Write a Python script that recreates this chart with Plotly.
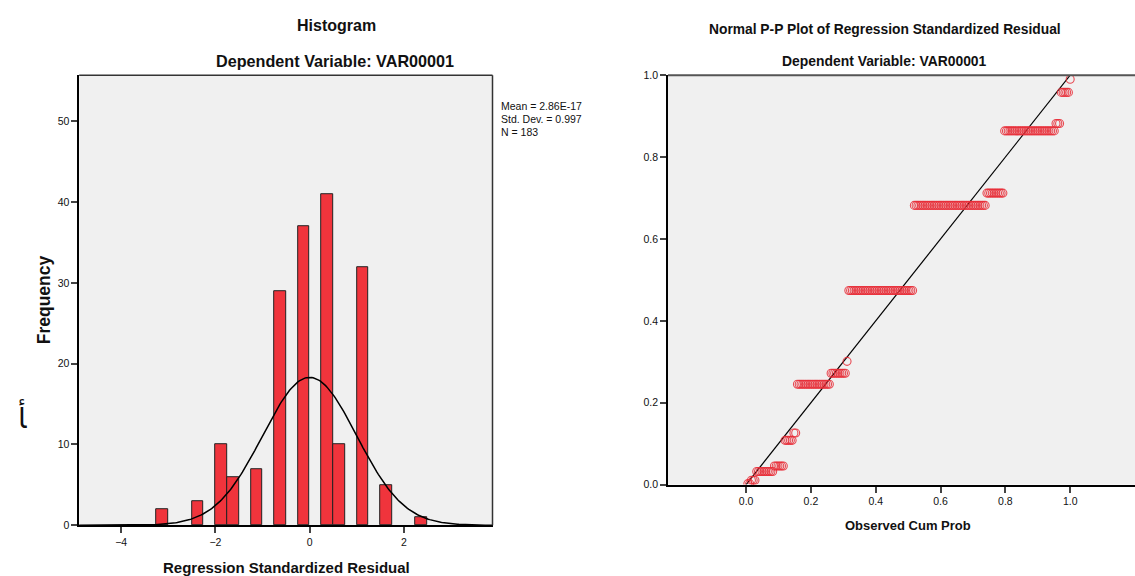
import numpy as np
import plotly.graph_objects as go

# ---------------- data ----------------
# Histogram of regression standardized residuals (bin width 0.25)
bin_centers = [-3.125, -2.375, -1.875, -1.625, -1.125, -0.625, -0.125, 0.375, 0.625, 1.125, 1.625, 2.375]
bin_counts = [2, 3, 10, 6, 7, 29, 37, 41, 10, 32, 5, 1]
bin_width = 0.25
hist_x_ticks = [-4, -2, 0, 2]
hist_y_ticks = [0, 10, 20, 30, 40, 50]

stat_mean = 2.86e-17
stat_sd = 0.997
stat_n = 183

# Normal P-P plot: expected cum prob of each tied group, and group sizes
pp_expected = [0.0024, 0.0105, 0.032, 0.0455, 0.108, 0.126, 0.245, 0.272, 0.301,
               0.474, 0.682, 0.712, 0.864, 0.882, 0.958, 0.990]
pp_counts = [2, 3, 10, 6, 5, 2, 19, 9, 1, 37, 41, 10, 29, 3, 5, 1]
pp_ticks = [0.0, 0.2, 0.4, 0.6, 0.8, 1.0]

# ---------------- derived ----------------
# observed cumulative probability = rank / N
obs_x, exp_y = [], []
rank = 0
for yv, c in zip(pp_expected, pp_counts):
    for _ in range(c):
        rank += 1
        obs_x.append(rank / stat_n)
        exp_y.append(yv)

curve_x = np.linspace(-4.9, 3.9, 300)
curve_y = stat_n * bin_width / (stat_sd * np.sqrt(2 * np.pi)) * np.exp(-0.5 * ((curve_x - stat_mean) / stat_sd) ** 2)

W, H = 1135, 576
def fx(px):
    return px / W
def fy(py):
    # target pixel row -> paper fraction (with small vertical calibration)
    return 1 - ((py - 5.8) / 0.979) / H

FONT = "Liberation Sans, Arial, sans-serif"
RED = "rgb(240,52,60)"

fig = go.Figure()

fig.add_trace(go.Bar(
    x=bin_centers, y=bin_counts, width=bin_width,
    marker=dict(color=RED, line=dict(color="#222222", width=1)),
    xaxis="x", yaxis="y", showlegend=False, hoverinfo="x+y"))

fig.add_trace(go.Scatter(
    x=curve_x, y=curve_y, mode="lines", line=dict(color="black", width=1.5),
    xaxis="x", yaxis="y", showlegend=False, hoverinfo="skip"))

fig.add_trace(go.Scatter(
    x=[0, 1], y=[0, 1], mode="lines", line=dict(color="black", width=1.2),
    xaxis="x2", yaxis="y2", showlegend=False, hoverinfo="skip"))

fig.add_trace(go.Scatter(
    x=obs_x, y=exp_y, mode="markers",
    marker=dict(symbol="circle-open", size=8, color="rgba(232,45,55,0.85)", line=dict(width=1.1)),
    xaxis="x2", yaxis="y2", showlegend=False))

tickfont = dict(family=FONT, size=10.5, color="#111111")

fig.update_layout(
    width=W, height=H,
    margin=dict(l=0, r=0, t=0, b=0),
    paper_bgcolor="white",
    plot_bgcolor="#f0f0f0",
    bargap=0,
    xaxis=dict(domain=[fx(79.2), fx(492.5)], range=[-4.89, 3.88], anchor="y",
               tickvals=hist_x_ticks, ticks="outside", ticklen=6, tickwidth=1.5, tickcolor="#444",
               showline=True, linecolor="black", linewidth=2, showgrid=False, zeroline=False,
               tickfont=tickfont),
    yaxis=dict(domain=[fy(525), fy(75)], range=[0, 55.7], anchor="x",
               tickvals=hist_y_ticks, ticks="outside", ticklen=6, tickwidth=1.5, tickcolor="#444",
               showline=True, linecolor="black", linewidth=1.5, showgrid=False, zeroline=False,
               tickfont=tickfont),
    xaxis2=dict(domain=[fx(668), 1.0], range=[-0.241, 1.2], anchor="y2",
                tickvals=pp_ticks, tickformat=".1f", ticks="outside", ticklen=6, tickwidth=1.5, tickcolor="#444",
                showline=True, linecolor="black", linewidth=2, showgrid=False, zeroline=False,
                tickfont=tickfont),
    yaxis2=dict(domain=[fy(484.3), fy(75)], range=[0, 1.0], anchor="x2",
                tickvals=pp_ticks, tickformat=".1f", ticks="outside", ticklen=6, tickwidth=1.5, tickcolor="#444",
                showline=True, linecolor="black", linewidth=1.5, showgrid=False, zeroline=False,
                tickfont=tickfont),
)

# frame lines (top/right of histogram, top of P-P)
fig.add_shape(type="line", xref="paper", yref="paper", x0=fx(79.2), x1=fx(492.5), y0=fy(75), y1=fy(75),
              line=dict(color="#333", width=1.5))
fig.add_shape(type="line", xref="paper", yref="paper", x0=fx(492.5), x1=fx(492.5), y0=fy(75), y1=fy(525),
              line=dict(color="#333", width=1.5))
fig.add_shape(type="line", xref="paper", yref="paper", x0=fx(668), x1=1.0, y0=fy(75), y1=fy(75),
              line=dict(color="#555", width=2))

def ann(text, x, y, size, family=FONT, xanchor="center", yanchor="middle", angle=0, color="#111111"):
    fig.add_annotation(text=text, x=fx(x), y=fy(y), xref="paper", yref="paper",
                       xanchor=xanchor, yanchor=yanchor, showarrow=False, textangle=angle,
                       font=dict(family=family, size=size, color=color))

ann("<b>Histogram</b>", 336, 25, 16)
ann("<b>Dependent Variable: VAR00001</b>", 335, 61, 16.2)
ann("<b>Frequency</b>", 44, 300, 17.5, angle=-90)
ann("\ufe84", 22, 416, 28, family="DejaVu Sans")
ann("<b>Regression Standardized Residual</b>", 286, 557, 15, yanchor="top")
ann("Mean = 2.86E-17", 499, 106, 10.5, xanchor="left")
ann("Std. Dev. = 0.997", 499, 119, 10.5, xanchor="left")
ann("N = 183", 499, 132, 10.5, xanchor="left")

ann("<b>Normal P-P Plot of Regression Standardized Residual</b>", 884.5, 29, 13.8)
ann("<b>Dependent Variable: VAR00001</b>", 884.6, 61, 13.9)
ann("<b>Observed Cum Prob</b>", 908, 525, 13)

page_fix = (
    "var s=document.createElement('style');"
    "s.innerHTML='html,body{margin:0;padding:0;overflow:hidden;width:1135px;height:576px;}';"
    "document.head.appendChild(s);"
)
fig.write_html("out.html", config={"displayModeBar": False}, post_script=page_fix)
